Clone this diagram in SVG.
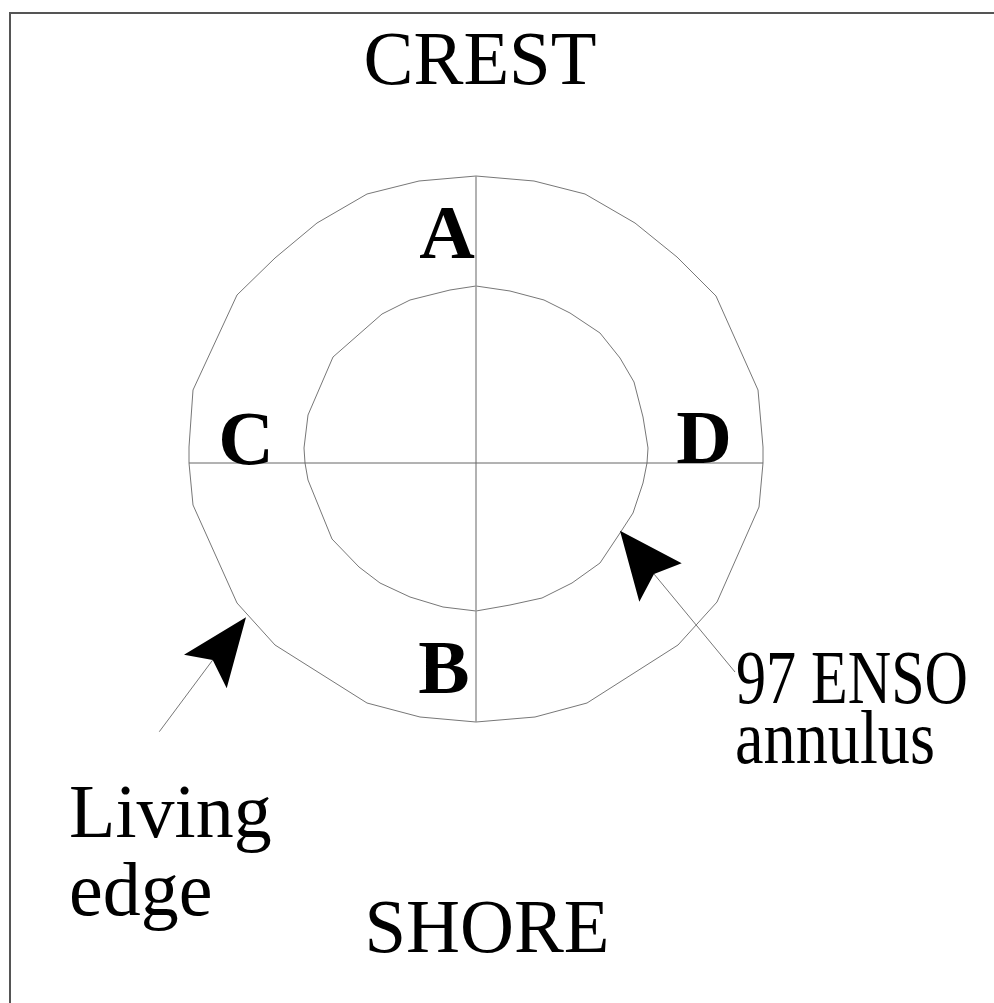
<svg xmlns="http://www.w3.org/2000/svg" width="994" height="1003" viewBox="0 0 994 1003">
<style>
.frame{fill:none;stroke:#555;stroke-width:2}
.ring{fill:none;stroke:#777;stroke-width:1}
.axis{stroke:#666;stroke-width:1}
.vaxis{stroke:#999;stroke-width:1.5}
.lead{stroke:#777;stroke-width:1;fill:none}
.head{fill:#000;stroke:none}
.big{font-family:"Liberation Serif","Times New Roman",serif;font-size:76px;fill:#000}
.lbl{font-family:"Liberation Serif","Times New Roman",serif;font-size:77px;font-weight:bold;fill:#000}
</style>
<rect x="0" y="0" width="994" height="1003" fill="#fff"/>
<g id="frame"><path class="frame" d="M10 1003 V13 H994"/></g>
<g id="outer-ring"><polygon class="ring" points="476,176 534,181 585,194 635,223 677,257 716,296 758,390 763,447 763,463 759,507 717,602 678,645 587,703 535,717 476,722 420,717 367,703 275,645 237,603 193,505 189,463 189,447 193,390 237,295 275,258 317,223 367,194 419,181"/></g>
<g id="inner-ring"><polygon class="ring" points="476,286 510,291 544,300 570,313 600,333 620,358 634,382 643,417 648,448 647,463 643,483 633,513 620,533 600,563 572,583 542,598 510,605 476,611 443,607 410,597 380,583 359,567 332,539 308,480 305,463 304,448 308,415 333,357 382,314 410,300 450,290"/></g>
<g id="axes">
<line class="vaxis" x1="476" y1="176" x2="476" y2="722"/>
<line class="axis" x1="189" y1="463" x2="763" y2="463"/>
</g>
<g id="crest"><text class="big" x="480" y="84" text-anchor="middle" textLength="233" lengthAdjust="spacingAndGlyphs">CREST</text></g>
<g id="shore"><text class="big" x="487" y="952" text-anchor="middle" textLength="245" lengthAdjust="spacingAndGlyphs">SHORE</text></g>
<g id="label-a"><text class="lbl" x="447" y="258" text-anchor="middle">A</text></g>
<g id="label-b"><text class="lbl" x="444" y="693" text-anchor="middle">B</text></g>
<g id="label-c"><text class="lbl" x="246" y="464" text-anchor="middle">C</text></g>
<g id="label-d"><text class="lbl" x="704" y="463" text-anchor="middle">D</text></g>
<g id="living-edge"><text class="big" x="69" y="837">Living</text><text class="big" x="69" y="915">edge</text></g>
<g id="enso"><text class="big" x="736" y="703" textLength="232" lengthAdjust="spacingAndGlyphs">97 ENSO</text><text class="big" x="735" y="763" textLength="200" lengthAdjust="spacingAndGlyphs">annulus</text></g>
<g id="connectors">
<line class="lead" x1="212.7" y1="660" x2="159.3" y2="731.7"/>
<polygon class="head" points="246,617.3 184,654.7 212.7,660 226.7,688.3"/>
<line class="lead" x1="654" y1="574" x2="735" y2="672"/>
<polygon class="head" points="620,530.7 681.7,563.3 654,574 639.3,601.7"/>
</g>
</svg>
